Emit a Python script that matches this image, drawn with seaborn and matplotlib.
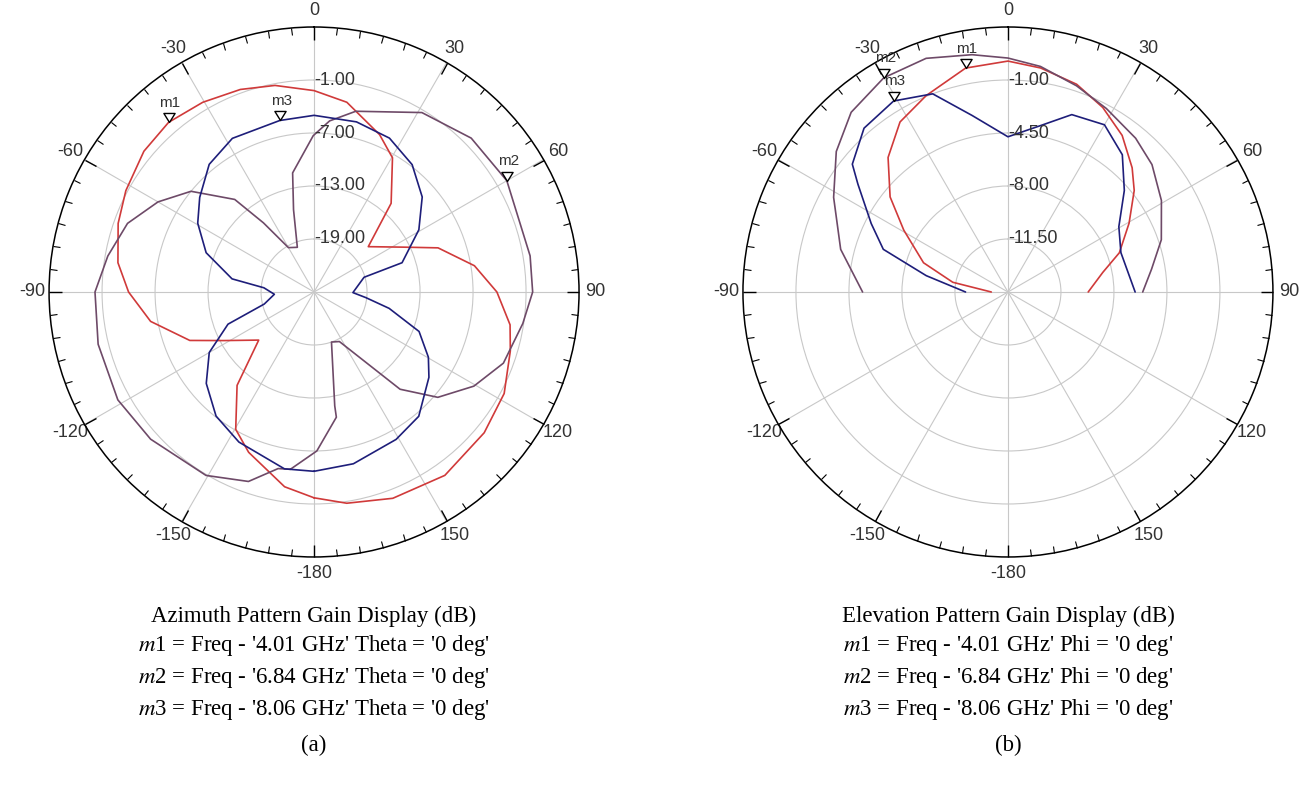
import numpy as np
import seaborn as sns
import matplotlib.pyplot as plt
from matplotlib.path import Path

sns.set_theme(style='white')
plt.rcParams['font.family'] = ['Liberation Sans', 'DejaVu Sans']
plt.rcParams['mathtext.fontset'] = 'stix'

# ---- (a) Azimuth pattern, gain in dB vs angle in degrees ----
az_m1_theta = [-180, -171.4, -157.8, -150.3, -140.5, -131, -118.3, -111.3, -100.2, -90, -81.5, -70.7,
               -61.7, -50.4, -40.6, -30.4, -20, -10.7, 0, 9.8, 22.6, 30.3, 41, 50.1, 63.3, 70.4,
               80.7, 90, 99.5, 106.7, 118.1, 129.6, 144.5, 159.1, 171.2, 180]
az_m1_db = [-1.7, -2.7, -5.4, -7.1, -11.3, -16.7, -13.4, -9.9, -6.2, -4.0, -2.55, -1.5,
            -0.8, 0.0, 0.3, -0.1, -0.6, -1.2, -2.2, -3.2, -5.7, -7.4, -11.7, -17.0, -13.7, -10.1,
            -6.6, -4.3, -2.5, -1.8, -0.6, 0.0, 0.5, 0.0, -0.8, -1.7]

az_m2_theta = [-172.4, -168.5, -160.9, -149.5, -132, -118.8, -103.6, -90, -80.1, -69.8, -60, -50.7,
               -40.6, -36.2, -30, -20.5, -14, -10.2, -0.3, 5.2, 13, 31, 45.6, 60, 80.5, 90, 98.6,
               110.6, 120.5, 130.4, 138.5, 152.9, 160.8, 169.7, 169.9, 179, 187.6]
az_m2_db = [-4.75, -4.6, -2.3, -0.9, -0.1, 0.35, 0.15, -0.2, -1.3, -2.5, -4.6, -7.0,
            -11.2, -15.3, -19.2, -19.6, -15.4, -11.3, -7.3, -5.55, -4.0, -1.3, -0.1, 0.2, -0.2, -0.25, -1.1,
            -2.1, -4.0, -6.6, -10.3, -18.7, -19.0, -11.9, -10.6, -7.0, -4.75]

az_m3_theta = [-180, -170.5, -153.4, -141.7, -130.3, -120, -110.5, -103.6, -93.3, -85.2, -80.9, -70,
               -59.4, -50.4, -39.4, -28, -11.3, 0, 14, 26.1, 37.6, 48.7, 59.3, 71.6, 73.6, 90.9,
               96.2, 102.3, 110.6, 119.7, 126.6, 139.9, 150.9, 167.1, 180]
az_m3_db = [-4.7, -4.7, -6.0, -7.1, -9.0, -11.3, -14.6, -19.2, -20.5, -19.3, -15.6, -12.0,
            -9.7, -8.2, -6.3, -5.3, -5.2, -5.0, -5.15, -5.6, -6.8, -8.7, -11.2, -14.5, -19.1, -20.6,
            -19.1, -16.3, -12.3, -10.1, -8.8, -6.6, -5.9, -5.05, -4.7]

az_rings = [-19, -13, -7, -1]
az_rlim = (-25, 5)
az_markers = {'m1': (-40.6, 0.3), 'm2': (60, 0.2), 'm3': (-11.3, -5.2)}

# ---- (b) Elevation pattern ----
el_m1_theta = [-90, -80, -70.9, -59.3, -51.1, -41.7, -32.4, -22.6, -10.7, 0, 8.3, 18.3, 27.2, 36.1,
               45, 51.2, 60.4, 70.6, 78.3, 90]
el_m1_db = [-13.9, -11.3, -9.1, -7.0, -5.0, -3.1, -1.7, -0.95, 0.05, 0.25, -0.05, -0.55, -1.3, -2.2,
            -3.4, -4.3, -5.8, -7.2, -8.6, -9.7]

el_m2_theta = [-90, -75.7, -61.5, -50.7, -41.1, -30.1, -19.3, -8.6, 0, 8.2, 18.4, 28.2, 39.7, 48.5,
               59.2, 71.2, 81, 90]
el_m2_db = [-5.4, -3.6, -1.9, -0.35, 0.75, 1.35, 1.35, 0.85, 0.45, 0.05, -0.65, -1.25, -1.8, -2.3,
            -3.2, -4.3, -5.4, -6.1]

el_m3_theta = [-90, -78.7, -71.1, -63.4, -54.3, -50.6, -41.3, -30.9, -20.8, -11.5, 0, 11.1, 19.8, 30,
               39.8, 48.9, 59.5, 70.8, 90]
el_m3_db = [-12.2, -9.5, -6.3, -4.9, -2.8, -1.7, -0.6, -0.3, -1.0, -3.1, -4.75, -3.8, -2.55, -2.25,
            -3.2, -4.8, -6.5, -7.1, -6.6]

el_rings = [-11.5, -8, -4.5, -1]
el_rlim = (-15, 2.5)
el_markers = {'m1': (-10.7, 0.05), 'm2': (-30.1, 1.35), 'm3': (-30.9, -0.3)}

angle_ticks = list(range(0, 360, 30))
angle_labels = ['0', '30', '60', '90', '120', '150', '-180', '-150', '-120', '-90', '-60', '-30']

colors = {'m1': '#d03a3a', 'm2': '#6e4a68', 'm3': '#1e1e7a'}

# open triangle with its tip on the marked point
tri = Path([(0, 0), (-0.62, 1.0), (0.62, 1.0), (0, 0)],
           [Path.MOVETO, Path.LINETO, Path.LINETO, Path.CLOSEPOLY])


def polar_panel(ax, curves, rings, rlim, markers):
    for name, th, db in curves:
        sns.lineplot(x=np.deg2rad(th), y=db, ax=ax, color=colors[name], linewidth=1.2,
                     sort=False, estimator=None, legend=False)
    ax.set_theta_zero_location('N')
    ax.set_theta_direction(-1)
    ax.set_ylim(*rlim)
    ax.set_yticks(rings)
    ax.set_yticklabels([])
    ax.set_xticks(np.deg2rad(angle_ticks))
    ax.set_xticklabels(angle_labels, fontsize=13, color='#333333')
    ax.set_xticks(np.deg2rad(np.arange(0, 360, 5)), minor=True)
    # in polar axes the "top" ticks sit on the outer circle
    ax.tick_params(axis='x', which='major', direction='in', length=9, width=1, color='black',
                   pad=5, bottom=False, top=True, labelbottom=True)
    ax.tick_params(axis='x', which='minor', direction='in', length=5, width=0.8, color='black',
                   bottom=False, top=True)
    ax.grid(True, which='major', color='#c8c8c8', linewidth=0.8)
    ax.spines['polar'].set_color('black')
    ax.spines['polar'].set_linewidth(1.1)
    ax.set_xlabel('')
    ax.set_ylabel('')
    for r in rings:
        ax.text(0, r, f'{r:.2f}', ha='left', va='center', fontsize=13, color='#333333')
    for name, (th, db) in markers.items():
        ax.plot(np.deg2rad(th), db, marker=tri, markersize=13, markerfacecolor='white',
                markeredgecolor='black', markeredgewidth=1, linestyle='none', clip_on=False, zorder=5)
        ax.annotate(name, (np.deg2rad(th), db), xytext=(1, 9), textcoords='offset points',
                    ha='center', va='bottom', fontsize=11, color='#333333', zorder=6)


fig = plt.figure(figsize=(13.08, 7.99), dpi=100)
ax_a = fig.add_axes([0.0375, 0.3029, 0.4052, 0.6633], projection='polar')
ax_b = fig.add_axes([0.5680, 0.3029, 0.4052, 0.6633], projection='polar')

polar_panel(ax_a, [('m1', az_m1_theta, az_m1_db), ('m2', az_m2_theta, az_m2_db),
                   ('m3', az_m3_theta, az_m3_db)], az_rings, az_rlim, az_markers)
polar_panel(ax_b, [('m1', el_m1_theta, el_m1_db), ('m2', el_m2_theta, el_m2_db),
                   ('m3', el_m3_theta, el_m3_db)], el_rings, el_rlim, el_markers)

captions = {
    0.240: ['Azimuth Pattern Gain Display (dB)',
            "$m$1 = Freq - '4.01 GHz' Theta = '0 deg'",
            "$m$2 = Freq - '6.84 GHz' Theta = '0 deg'",
            "$m$3 = Freq - '8.06 GHz' Theta = '0 deg'",
            '(a)'],
    0.7706: ['Elevation Pattern Gain Display (dB)',
             "$m$1 = Freq - '4.01 GHz' Phi = '0 deg'",
             "$m$2 = Freq - '6.84 GHz' Phi = '0 deg'",
             "$m$3 = Freq - '8.06 GHz' Phi = '0 deg'",
             '(b)'],
}
line_y = [616, 646, 678, 710, 745]
for xc, lines in captions.items():
    for txt, yp in zip(lines, line_y):
        fig.text(xc, 1 - yp / 799, txt, ha='center', va='center', fontsize=16.5,
                 family='Liberation Serif', color='black')

fig.savefig('out.png', dpi=100)
